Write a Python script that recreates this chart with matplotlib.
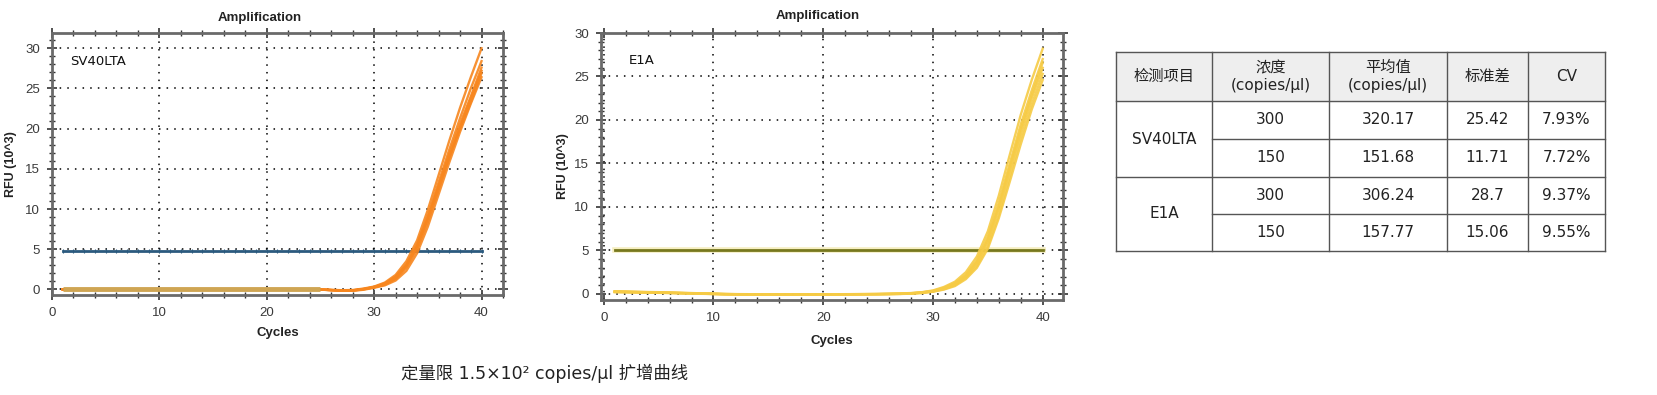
import matplotlib.pyplot as plt
from matplotlib.ticker import MultipleLocator

plt.rcParams['font.family'] = ['DejaVu Sans', 'Noto Sans CJK SC']

# cycles 1..40
cycles = list(range(1, 41))

# SV40LTA replicates (RFU x10^3)
sv40_curves = [
    [0.0, 0.0, 0.0, 0.0, 0.0, 0.0, 0.0, 0.0, 0.0, 0.0, 0.0, 0.0, 0.0, 0.0, 0.0, 0.0, 0.0, 0.0, 0.0, 0.0,
     0.0, 0.0, 0.0, 0.0, -0.02, -0.08, -0.15, -0.15, 0.0, 0.25, 0.6, 1.3, 2.7, 5.0, 8.4, 12.4, 16.4, 20.2, 23.8, 27.2],
    [0.0, 0.0, 0.0, 0.0, 0.0, 0.0, 0.0, 0.0, 0.0, 0.0, 0.0, 0.0, 0.0, 0.0, 0.0, 0.0, 0.0, 0.0, 0.0, 0.0,
     0.0, 0.0, 0.0, 0.0, -0.03, -0.1, -0.17, -0.12, 0.05, 0.3, 0.75, 1.6, 3.1, 5.6, 9.2, 13.3, 17.4, 21.3, 25.0, 28.4],
    [0.0, 0.0, 0.0, 0.0, 0.0, 0.0, 0.0, 0.0, 0.0, 0.0, 0.0, 0.0, 0.0, 0.0, 0.0, 0.0, 0.0, 0.0, 0.0, 0.0,
     0.0, 0.0, 0.0, 0.0, -0.02, -0.1, -0.18, -0.18, -0.05, 0.2, 0.5, 1.1, 2.3, 4.5, 7.8, 11.8, 15.8, 19.6, 23.1, 26.4],
    [0.0, 0.0, 0.0, 0.0, 0.0, 0.0, 0.0, 0.0, 0.0, 0.0, 0.0, 0.0, 0.0, 0.0, 0.0, 0.0, 0.0, 0.0, 0.0, 0.0,
     0.0, 0.0, 0.0, 0.0, -0.02, -0.06, -0.1, -0.08, 0.1, 0.35, 0.85, 1.8, 3.5, 6.1, 9.9, 14.2, 18.5, 22.6, 26.4, 30.0],
    [0.0, 0.0, 0.0, 0.0, 0.0, 0.0, 0.0, 0.0, 0.0, 0.0, 0.0, 0.0, 0.0, 0.0, 0.0, 0.0, 0.0, 0.0, 0.0, 0.0,
     0.0, 0.0, 0.0, 0.0, -0.03, -0.08, -0.14, -0.12, 0.02, 0.25, 0.65, 1.4, 2.9, 5.3, 8.8, 12.9, 16.9, 20.6, 24.0, 27.6],
    [0.0, 0.0, 0.0, 0.0, 0.0, 0.0, 0.0, 0.0, 0.0, 0.0, 0.0, 0.0, 0.0, 0.0, 0.0, 0.0, 0.0, 0.0, 0.0, 0.0,
     0.0, 0.0, 0.0, 0.0, -0.02, -0.09, -0.16, -0.14, 0.03, 0.3, 0.7, 1.5, 3.0, 5.4, 8.9, 12.7, 16.5, 20.0, 23.3, 26.9],
]
# flat tan background trace on the left plot, cycles 1..25
sv40_bg_cycles = cycles[:25]
sv40_bg = [0.0] * 25
sv40_threshold = 4.8

# E1A replicates
e1a_curves = [
    [0.25, 0.22, 0.2, 0.18, 0.15, 0.12, 0.1, 0.06, 0.03, 0.0, -0.03, -0.05, -0.05, -0.06, -0.06, -0.07, -0.07, -0.07, -0.07, -0.06,
     -0.06, -0.05, -0.05, -0.04, -0.03, -0.02, 0.0, 0.05, 0.15, 0.3, 0.6, 1.1, 2.0, 3.5, 6.0, 9.8, 14.2, 18.6, 22.5, 26.0],
    [0.3, 0.28, 0.25, 0.22, 0.2, 0.17, 0.13, 0.1, 0.06, 0.03, 0.0, -0.02, -0.03, -0.04, -0.04, -0.05, -0.05, -0.05, -0.05, -0.04,
     -0.04, -0.03, -0.02, -0.01, 0.0, 0.02, 0.05, 0.1, 0.2, 0.4, 0.8, 1.4, 2.5, 4.3, 7.2, 11.3, 16.0, 20.6, 24.6, 28.2],
    [0.2, 0.18, 0.16, 0.14, 0.12, 0.1, 0.07, 0.04, 0.01, -0.02, -0.05, -0.07, -0.08, -0.08, -0.09, -0.09, -0.09, -0.09, -0.08, -0.08,
     -0.07, -0.07, -0.06, -0.05, -0.04, -0.03, -0.01, 0.03, 0.1, 0.25, 0.5, 0.9, 1.7, 3.0, 5.2, 8.7, 12.9, 17.2, 21.2, 24.6],
    [0.28, 0.25, 0.22, 0.2, 0.17, 0.14, 0.11, 0.08, 0.05, 0.02, -0.01, -0.03, -0.04, -0.05, -0.05, -0.06, -0.06, -0.06, -0.06, -0.05,
     -0.05, -0.04, -0.03, -0.02, -0.01, 0.01, 0.03, 0.08, 0.18, 0.35, 0.7, 1.25, 2.2, 3.9, 6.6, 10.5, 15.0, 19.5, 23.4, 27.0],
    [0.22, 0.2, 0.18, 0.16, 0.13, 0.11, 0.08, 0.05, 0.02, -0.01, -0.04, -0.06, -0.07, -0.07, -0.08, -0.08, -0.08, -0.08, -0.07, -0.07,
     -0.06, -0.06, -0.05, -0.04, -0.03, -0.01, 0.01, 0.05, 0.12, 0.28, 0.55, 1.0, 1.85, 3.2, 5.5, 9.1, 13.5, 17.9, 21.8, 25.3],
    [0.26, 0.24, 0.21, 0.19, 0.16, 0.13, 0.1, 0.07, 0.04, 0.01, -0.02, -0.04, -0.05, -0.06, -0.06, -0.06, -0.06, -0.06, -0.06, -0.05,
     -0.05, -0.04, -0.04, -0.03, -0.02, 0.0, 0.02, 0.07, 0.16, 0.32, 0.65, 1.15, 2.1, 3.7, 6.3, 10.1, 14.6, 19.0, 22.9, 26.6],
]
e1a_threshold = 5.05

# table
col_headers = ['检测项目', '浓度\n(copies/μl)', '平均值\n(copies/μl)', '标准差', 'CV']
targets = ['SV40LTA', 'E1A']
conc = ['300', '150', '300', '150']
means = ['320.17', '151.68', '306.24', '157.77']
sds = ['25.42', '11.71', '28.7', '15.06']
cvs = ['7.93%', '7.72%', '9.37%', '9.55%']

caption = '定量限 1.5×10² copies/μl 扩增曲线'

W, H = 1658, 395
fig = plt.figure(figsize=(W / 100, H / 100), dpi=100)
fig.patch.set_facecolor('white')

# overlay in pixel units for the table and caption
ov = fig.add_axes([0, 0, 1, 1])
ov.set_xlim(0, W)
ov.set_ylim(H, 0)
ov.axis('off')


def style_axes(ax, xlim, ylim):
    ax.set_xlim(*xlim)
    ax.set_ylim(*ylim)
    ax.xaxis.set_major_locator(MultipleLocator(10))
    ax.xaxis.set_minor_locator(MultipleLocator(2))
    ax.yaxis.set_major_locator(MultipleLocator(5))
    ax.yaxis.set_minor_locator(MultipleLocator(1))
    ax.tick_params(which='both', direction='inout', top=True, right=True, color='#333333',
                   labelsize=9.5, labelcolor='#3a3a3a')
    ax.tick_params(which='major', length=7, width=1.2, pad=5)
    ax.tick_params(which='minor', length=4, width=1)
    ax.grid(True, which='major', color='black', linestyle=(0, (1, 4)), linewidth=1.1)
    for s in ax.spines.values():
        s.set_color('#6a6a6a')
        s.set_linewidth(2)
    for lab in ax.get_xticklabels() + ax.get_yticklabels():
        lab.set_family(['Liberation Sans'])


# left: SV40LTA
ax1 = fig.add_axes([52 / W, 1 - 295 / H, 451 / W, 262 / H])
style_axes(ax1, (0, 42), (-0.7, 31.9))
ax1.plot(cycles, [sv40_threshold] * len(cycles), color='#2b5a7e', linewidth=2, marker='|',
         markersize=3, markeredgewidth=0.8, zorder=3)
for y in sv40_curves:
    ax1.plot(cycles, y, color='#f7861e', linewidth=1.7, alpha=0.9, zorder=4)
ax1.plot(sv40_bg_cycles, sv40_bg, color='#cfa553', linewidth=3.5, zorder=5, solid_capstyle='butt')
ax1.text(1.65, 28.4, 'SV40LTA', fontsize=9.5, va='center', ha='left', color='#111111')
ax1.set_title('Amplification', fontsize=9.5, fontweight='bold', family=['Liberation Sans'],
              color='#222222', pad=9, x=0.46)
ax1.set_xlabel('Cycles', fontsize=9.5, fontweight='bold', family=['Liberation Sans'],
               color='#222222', labelpad=6)
ax1.set_ylabel('RFU (10^3)', fontsize=9, fontweight='bold', family=['Liberation Sans'],
               color='#222222', labelpad=6)

# right: E1A
ax2 = fig.add_axes([601 / W, 1 - 300 / H, 462 / W, 267 / H])
style_axes(ax2, (-0.25, 41.85), (-0.7, 30.0))
ax2.plot(cycles, [e1a_threshold] * len(cycles), color='#f5eec0', linewidth=4, zorder=2)
ax2.plot(cycles, [e1a_threshold] * len(cycles), color='#77781e', linewidth=2, zorder=3)
for y in e1a_curves:
    ax2.plot(cycles, y, color='#f6cb45', linewidth=1.7, alpha=0.9, zorder=4)
ax2.text(2.3, 26.8, 'E1A', fontsize=9.5, va='center', ha='left', color='#111111')
ax2.set_title('Amplification', fontsize=9.5, fontweight='bold', family=['Liberation Sans'],
              color='#222222', pad=10, x=0.47)
ax2.set_xlabel('Cycles', fontsize=9.5, fontweight='bold', family=['Liberation Sans'],
               color='#222222', labelpad=8)
ax2.set_ylabel('RFU (10^3)', fontsize=9, fontweight='bold', family=['Liberation Sans'],
               color='#222222', labelpad=4)

# table drawn in pixel units
col_x = [1116, 1212, 1329, 1447, 1528, 1605]
row_y = [52, 101, 139, 177, 214, 251]
ov.fill_between([col_x[0], col_x[-1]], row_y[0], row_y[1], color='#eeeeee', zorder=1)
lc = '#555555'
for y in row_y:
    x_start = col_x[0] if y in (row_y[0], row_y[1], row_y[3], row_y[5]) else col_x[1]
    ov.plot([x_start, col_x[-1]], [y, y], color=lc, linewidth=1, zorder=2)
for x in col_x:
    ov.plot([x, x], [row_y[0], row_y[-1]], color=lc, linewidth=1, zorder=2)

for j, h in enumerate(col_headers):
    cx = (col_x[j] + col_x[j + 1]) / 2
    ov.text(cx, (row_y[0] + row_y[1]) / 2, h, ha='center', va='center', fontsize=11,
            color='#222222', linespacing=1.2)
for k, t in enumerate(targets):
    cx = (col_x[0] + col_x[1]) / 2
    ov.text(cx, row_y[1 + 2 * k + 1], t, ha='center', va='center', fontsize=11, color='#222222')
for i in range(4):
    cy = (row_y[i + 1] + row_y[i + 2]) / 2
    for j, v in enumerate([conc[i], means[i], sds[i], cvs[i]]):
        cx = (col_x[j + 1] + col_x[j + 2]) / 2
        ov.text(cx, cy, v, ha='center', va='center', fontsize=11, color='#222222')

ov.text(545, 373, caption, ha='center', va='center', fontsize=12.5, color='#222222')

fig.savefig('out.png', dpi=100, facecolor='white')
